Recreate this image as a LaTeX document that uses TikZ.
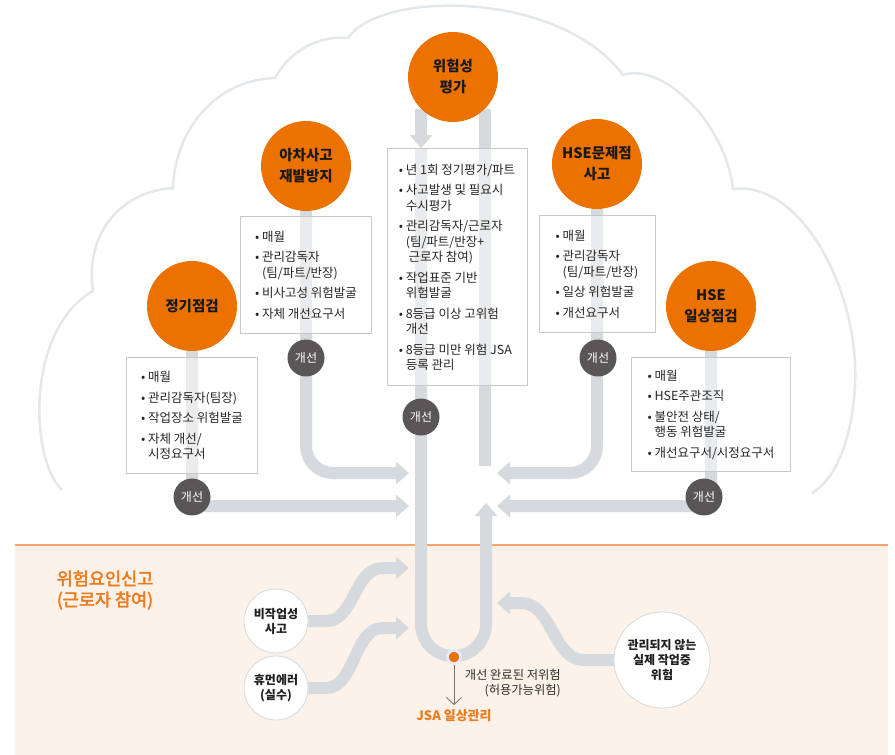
\documentclass[tikz,border=0pt]{standalone}
\usepackage{fontspec}
\setmainfont{Noto Sans CJK KR}
\newfontfamily\krmedium[FakeBold=2.5]{Noto Sans CJK KR}
\usetikzlibrary{arrows.meta, positioning, backgrounds}
\definecolor{hseorange}{RGB}{236,114,0}
\definecolor{textorange}{RGB}{238,122,30}
\definecolor{barc}{RGB}{212,218,222}
\definecolor{cloudc}{RGB}{228,232,235}
\definecolor{boxline}{RGB}{200,200,200}
\definecolor{fixgray}{RGB}{90,85,86}
\definecolor{peach}{RGB}{253,242,233}
\definecolor{peachline}{RGB}{245,165,105}
\definecolor{causeline}{RGB}{214,218,222}
\newcommand{\bl}{\textbullet\ }
\newcommand{\ind}{\hphantom{\textbullet\ }}

\begin{document}
\begin{tikzpicture}[
  x=1pt, y=-1pt,
  flow/.style    = {line width=12pt, draw=barc},
  flowarr/.style = {flow, -{Triangle[width=22pt, length=13pt]}},
  topic/.style   = {circle, fill=hseorange, minimum size=90pt, inner sep=0pt,
                    font=\fontsize{14.5}{21}\selectfont\bfseries,
                    text=black!90, align=center},
  listbox/.style = {draw=boxline, line width=0.8pt, fill=white,
                    fill opacity=0.5, text opacity=1, inner sep=0pt,
                    font=\fontsize{12.5}{15.5}\selectfont, text=black!85,
                    align=left},
  fix/.style     = {circle, fill=fixgray, text=white, minimum size=37pt,
                    inner sep=0pt, font=\fontsize{12}{14}\selectfont},
  cause/.style   = {circle, draw=causeline, line width=0.8pt, fill=white,
                    inner sep=0pt, font=\fontsize{12}{15}\selectfont\bfseries,
                    text=black!88, align=center}
]
\useasboundingbox (0,0) rectangle (895,755);

% topics
\node[topic] (RA) at (453,77)  {위험성\\평가};
\node[topic] (NM) at (306,166) {아차사고\\재발방지};
\node[topic] (RI) at (192,306) {정기점검};
\node[topic] (HP) at (597,164) {HSE문제점\\사고};
\node[topic] (HD) at (711,306) {HSE\\일상점검};

% lists
\node[listbox, below=5pt of NM, minimum width=131pt, minimum height=117pt] (NMbox)
  {\bl 매월\\[5pt]
   \bl 관리감독자\\\ind(팀/파트/반장)\\[5pt]
   \bl 비사고성 위험발굴\\[5pt]
   \bl 자체 개선요구서};
\node[listbox, below=6pt of RI, minimum width=131pt, minimum height=116pt] (RIbox)
  {\bl 매월\\[5pt]
   \bl 관리감독자(팀장)\\[5pt]
   \bl 작업장소 위험발굴\\[5pt]
   \bl 자체 개선/\\\ind 시정요구서};
\node[listbox, below=26pt of RA, xshift=4pt, minimum width=140pt, minimum height=237pt] (RAbox)
  {\bl 년 1회 정기평가/파트\\[5pt]
   \bl 사고발생 및 필요시\\\ind 수시평가\\[5pt]
   \bl 관리감독자/근로자\\\ind(팀/파트/반장+\\\ind\ 근로자 참여)\\[5pt]
   \bl 작업표준 기반\\\ind 위험발굴\\[5pt]
   \bl 8등급 이상 고위험\\\ind 개선\\[5pt]
   \bl 8등급 미만 위험 JSA\\\ind 등록 관리};
\node[listbox, below=6pt of HP, minimum width=116pt, minimum height=117pt] (HPbox)
  {\bl 매월\\[5pt]
   \bl 관리감독자\\\ind(팀/파트/반장)\\[5pt]
   \bl 일상 위험발굴\\[5pt]
   \bl 개선요구서};
\node[listbox, below=6pt of HD, minimum width=159pt, minimum height=114pt] (HDbox)
  {\bl 매월\\[5pt]
   \bl HSE주관조직\\[5pt]
   \bl 불안전 상태/\\\ind 행동 위험발굴\\[5pt]
   \bl 개선요구서/시정요구서};

% improvement marks
\node[fix] (NMfix) at (306,358) {개선};
\node[fix] (RIfix) at (192,497) {개선};
\node[fix] (RAfix) at (421,417) {개선};
\node[fix] (HPfix) at (598,358) {개선};
\node[fix] (HDfix) at (704,497) {개선};

% causes in the reporting zone
\node[cause, minimum size=64pt] (NW) at (276,621) {비작업성\\사고};
\node[cause, minimum size=64pt] (HE) at (276,688) {휴먼에러\\(실수)};
\node[cause, minimum size=96pt] (UM) at (662,660) {관리되지 않는\\실제 작업중\\위험};

\node[text=textorange, align=center, font=\krmedium\fontsize{17.5}{21}\selectfont] (report) at (105,590)
  {위험요인신고\\(근로자 참여)};

% end point
\coordinate (Utop)   at (RA.225 |- RAbox.north);
\coordinate (Uleft)  at (421,656);
\coordinate (Uright) at (486,656);
\coordinate (Uin)    at (486,503);
\coordinate (RAend)  at (486,466);
\node[circle, fill=hseorange, draw=blue!8, line width=2.5pt, minimum size=13pt,
      inner sep=0pt] (done) at (454,657) {};
\coordinate (jsaTip) at (454,705);
\node[below=1pt of jsaTip, text=textorange, font=\fontsize{13}{15}\selectfont\bfseries] (JSA) {JSA 일상관리};
\node[anchor=east, inner sep=0pt, align=right, text=black!82,
      font=\fontsize{12.3}{15}\selectfont] (lowrisk) at (561,683)
  {개선 완료된 저위험\\(허용가능위험)};

% inlets
\coordinate (inNM) at (409,473);
\coordinate (inRI) at (409,506);
\coordinate (inHP) at (497,473);
\coordinate (inHD) at (497,506);
\coordinate (inNW) at (409,568);
\coordinate (inHE) at (409,628);
\coordinate (inUM) at (497,603);

\begin{scope}[on background layer]
  % cloud
  \draw[cloudc, line width=2.5pt]
    (62,490) .. controls (30,460) and (25,330) .. (93,291)
    .. controls (85,240) and (115,192) .. (173,188)
    .. controls (175,130) and (215,80) .. (275,78)
    .. controls (290,50) and (320,35) .. (348,38)
    .. controls (380,-10) and (560,-10) .. (623,75)
    .. controls (660,62) and (725,120) .. (733,189)
    .. controls (800,180) and (860,290) .. (855,386)
    .. controls (852,440) and (835,480) .. (812,493);
  % reporting zone
  \fill[peach] (15,545) rectangle (888,755);
  \draw[peachline, line width=1.5pt] (15,545) -- (888,545);
  % flows
  \draw[flowarr] (RA.225) -- (Utop);
  \draw[flowarr, rounded corners=32pt] (Utop) -- (Utop |- Uleft) -- (Uright) -- (Uin);
  \draw[flow] (RA.-45) -- (RA.-45 |- RAend);
  \draw[flowarr, rounded corners=27pt] (NM.south) |- (inNM);
  \draw[flowarr, rounded corners=15pt] (RI.south) |- (inRI);
  \draw[flowarr, rounded corners=27pt] (HP.south) |- (inHP);
  \draw[flowarr, rounded corners=15pt] (HD.south) |- (inHD);
  \draw[flowarr] (NW.east) -- ++(18,0) .. controls +(28,0) and +(-28,0) .. ++(56,-53) -- (inNW);
  \draw[flowarr] (HE.east) -- ++(18,0) .. controls +(28,0) and +(-28,0) .. ++(56,-60) -- (inHE);
  \draw[flowarr] (UM.west) -- ++(-30,0) .. controls +(-30,0) and +(30,0) .. ++(-62,-57) -- (inUM);
\end{scope}
\draw[black!55, line width=0.8pt, -{Straight Barb[length=7pt, width=15pt]}] (done.south) -- (jsaTip);
\end{tikzpicture}
\end{document}
